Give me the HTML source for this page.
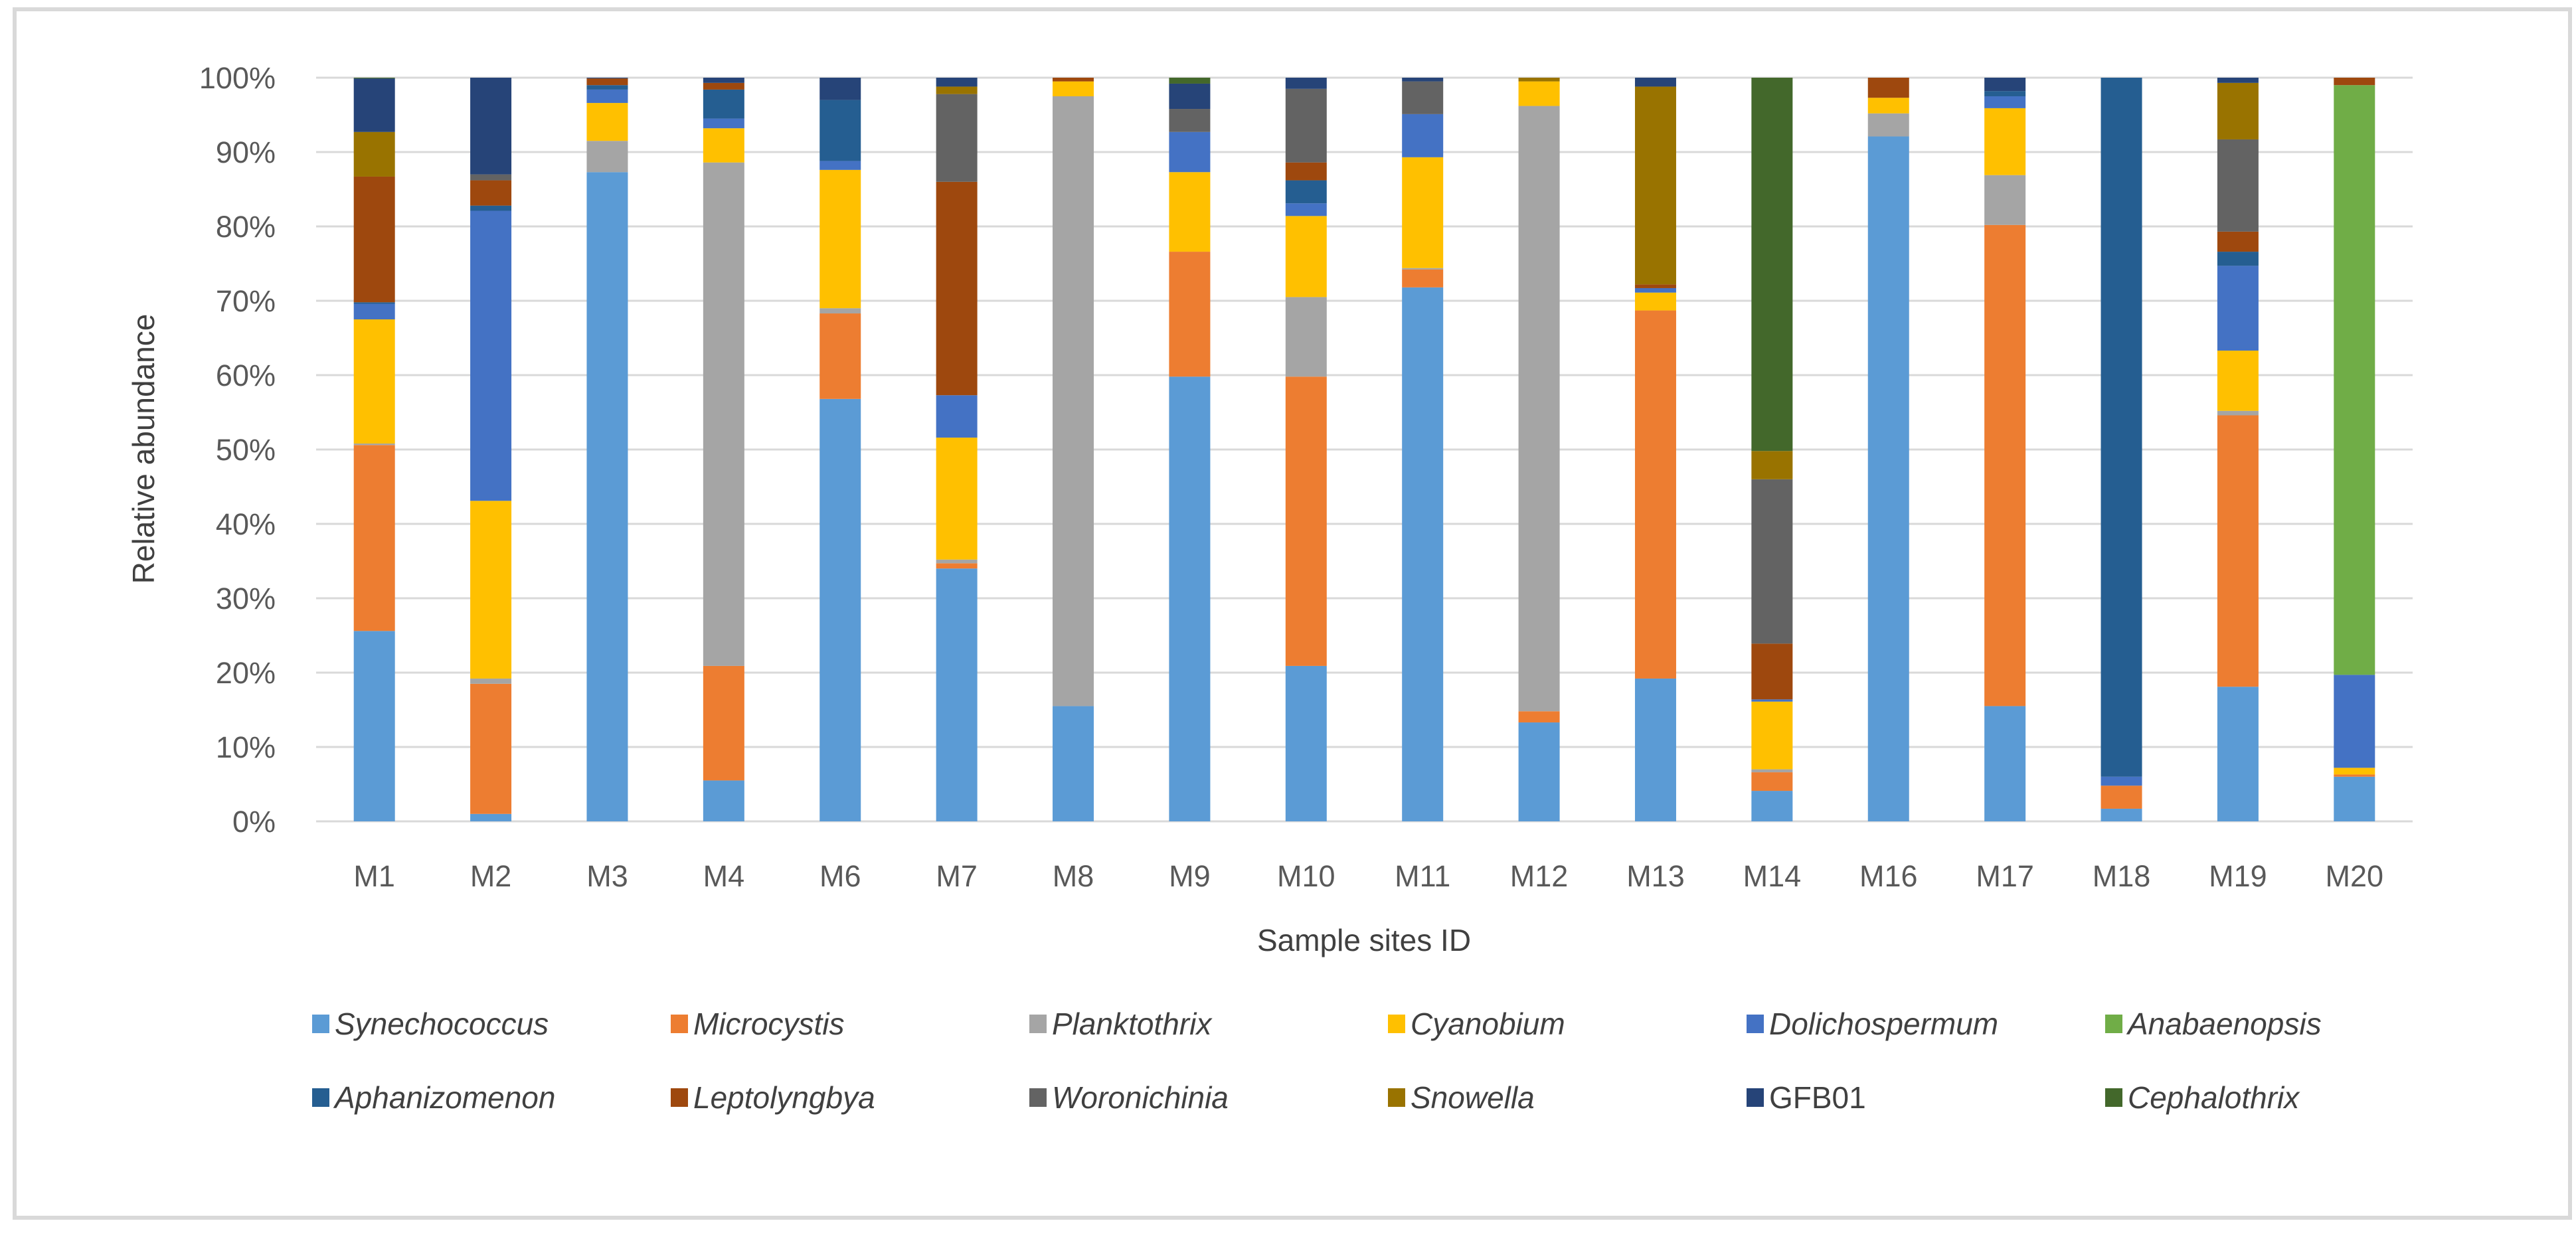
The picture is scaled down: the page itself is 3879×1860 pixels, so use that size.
<!DOCTYPE html>
<html><head><meta charset="utf-8"><style>
html,body{margin:0;padding:0;background:#fff;}
svg{display:block;font-family:"Liberation Sans",sans-serif;}
</style></head><body>
<svg id="chart" width="3879" height="1860" viewBox="0 0 3879 1860" xmlns="http://www.w3.org/2000/svg">
<rect x="22" y="14" width="3848" height="1820" fill="#fff" stroke="#d9d9d9" stroke-width="6"/>
<g id="grid"></g>
<g id="bars"></g>
<g id="yticks"></g>
<g id="xticks"></g>
<text x="0" y="0" transform="translate(232,676) rotate(-90)" text-anchor="middle" font-size="46" fill="#404040">Relative abundance</text>
<text x="2054" y="1432" text-anchor="middle" font-size="46" fill="#404040">Sample sites ID</text>
<g id="legend"></g>
</svg>
<script>
const categories = ["M1","M2","M3","M4","M6","M7","M8","M9","M10","M11","M12","M13","M14","M16","M17","M18","M19","M20"];
const seriesNames = ["Synechococcus","Microcystis","Planktothrix","Cyanobium","Dolichospermum","Anabaenopsis","Aphanizomenon","Leptolyngbya","Woronichinia","Snowella","GFB01","Cephalothrix"];
const seriesColors = ["#5B9BD5","#ED7D31","#A5A5A5","#FFC000","#4472C4","#70AD47","#255E91","#9E480E","#636363","#997300","#264478","#43682B"];
const italicNames = [true,true,true,true,true,true,true,true,true,true,false,true];
const synechococcus  = [25.6,1.0,87.3,5.5,56.8,34.0,15.5,59.8,20.9,71.8,13.3,19.2,4.1,92.1,15.5,1.7,18.1,6.0];
const microcystis    = [25.0,17.5,0,15.4,11.5,0.7,0,16.8,38.9,2.4,1.5,49.5,2.5,0,64.7,3.1,36.5,0.3];
const planktothrix   = [0.2,0.7,4.2,67.7,0.7,0.5,82.0,0,10.7,0.2,81.4,0,0.4,3.1,6.7,0,0.6,0];
const cyanobium      = [16.7,23.9,5.1,4.6,18.6,16.4,2.0,10.7,10.9,14.9,3.3,2.4,9.1,2.1,9.0,0,8.1,0.9];
const dolichospermum = [2.1,39.0,1.8,1.3,1.2,5.7,0,5.4,1.7,5.8,0,0.6,0.3,0,1.6,1.2,11.4,12.5];
const anabaenopsis   = [0,0,0,0,0,0,0,0,0,0,0,0,0,0,0,0,0,79.3];
const aphanizomenon  = [0.2,0.7,0.6,3.9,8.2,0,0,0,3.1,0,0,0,0,0,0.7,94.0,1.9,0];
const leptolyngbya   = [16.9,3.4,0.9,0.9,0,28.7,0.5,0,2.4,0,0,0.5,7.5,2.7,0,0,2.7,1.0];
const woronichinia   = [0,0.8,0,0,0,11.8,0,3.1,9.9,4.4,0,0,22.1,0,0,0,12.4,0];
const snowella       = [6.0,0,0,0,0,1.0,0,0,0,0,0.5,26.6,3.8,0,0,0,7.6,0];
const gfb01          = [7.2,13.0,0.1,0.7,3.0,1.2,0,3.4,1.5,0.5,0,1.2,0,0,1.8,0,0.7,0];
const cephalothrix   = [0.1,0,0,0,0,0,0,0.8,0,0,0,0,50.2,0,0,0,0,0];
const seriesValues = [synechococcus,microcystis,planktothrix,cyanobium,dolichospermum,anabaenopsis,aphanizomenon,leptolyngbya,woronichinia,snowella,gfb01,cephalothrix];
const yTicks = [0,10,20,30,40,50,60,70,80,90,100];

const NS = "http://www.w3.org/2000/svg";
const plotL = 476, plotR = 3633, plotT = 117, plotB = 1237;
const band = (plotR - plotL) / categories.length;
const barW = 62;
function yScale(v){ return plotB - v / 100 * (plotB - plotT); }
function xCenter(i){ return plotL + band * (i + 0.5); }
function mk(tag, attrs, parent){ const e = document.createElementNS(NS, tag); for (const k in attrs) e.setAttribute(k, attrs[k]); parent.appendChild(e); return e; }

const grid = document.getElementById("grid");
const yt = document.getElementById("yticks");
yTicks.forEach(t => {
  const ln = mk("line", {x1: plotL, x2: plotR, y1: yScale(t), y2: yScale(t), stroke: "#d9d9d9", "stroke-width": 3}, grid);
  
  
  const tx = mk("text", {x: 415, y: yScale(t) + 16, "text-anchor": "end", "font-size": 45, fill: "#595959"}, yt);
  tx.textContent = t + "%";
  
  
});

const bars = document.getElementById("bars");
const xt = document.getElementById("xticks");
categories.forEach((c, i) => {
  let cum = 0;
  const cx = xCenter(i);
  seriesValues.forEach((vals, s) => {
    const v = vals[i];
    if (v > 0) {
      const y1 = yScale(cum + v), y0 = yScale(cum);
      const r = mk("rect", {x: cx - barW / 2, y: y1, width: barW, height: y0 - y1, fill: seriesColors[s]}, bars);
      
      
    }
    cum += v;
  });
  const lb = mk("text", {x: cx, y: 1335, "text-anchor": "middle", "font-size": 45, fill: "#595959"}, xt);
  lb.textContent = c;
  
  
});

const lg = document.getElementById("legend");
seriesNames.forEach((n, s) => {
  const col = s % 6, row = Math.floor(s / 6);
  const x = 470 + col * 540, y = row === 0 ? 1542 : 1653;
  const g = mk("g", {}, lg);
  
  
  const m = mk("rect", {x: x, y: y - 14, width: 26, height: 28, fill: seriesColors[s]}, g);
  
  
  const t = mk("text", {x: x + 34, y: y + 16, "font-size": 46, fill: "#404040", "font-style": italicNames[s] ? "italic" : "normal"}, g);
  t.textContent = n;
  
  
});
</script>
</body></html>
